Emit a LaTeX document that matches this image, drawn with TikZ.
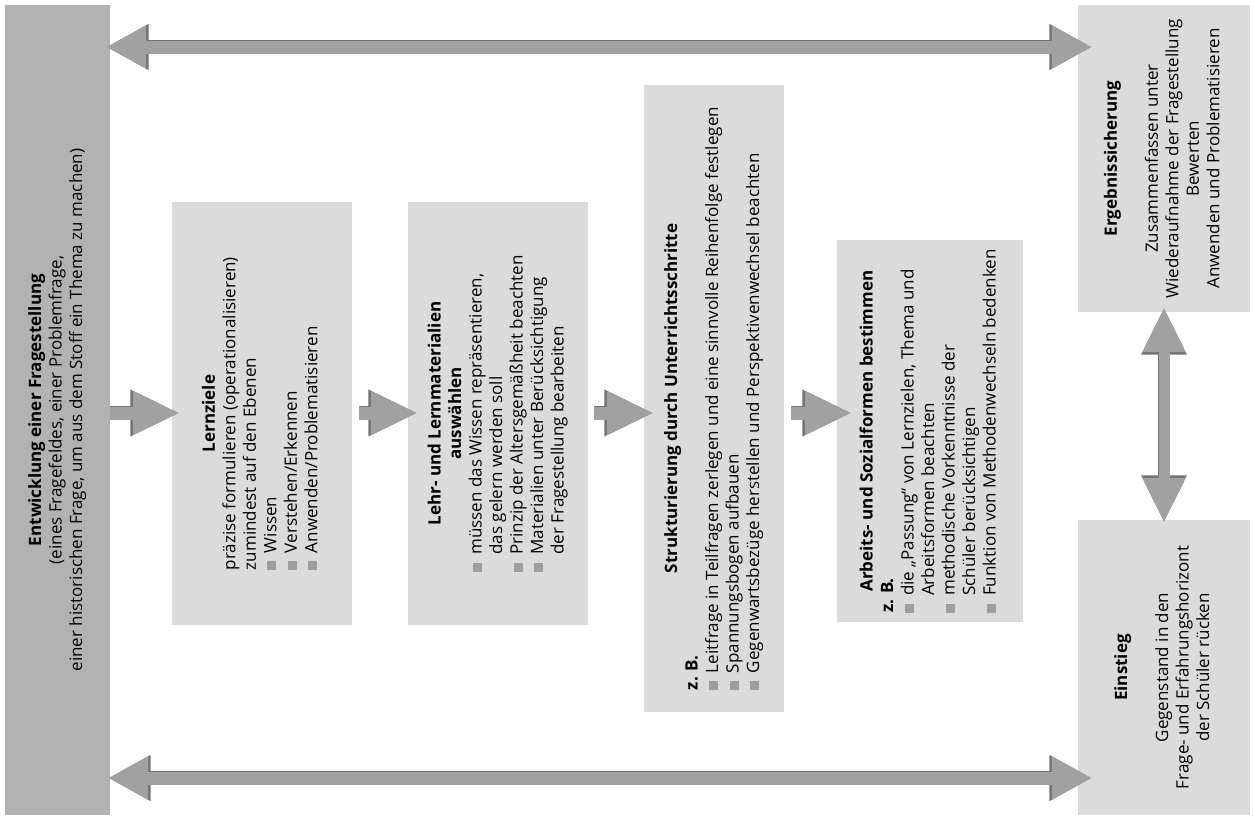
\documentclass[tikz,border=0pt]{standalone}
\usepackage{fontspec}
\setmainfont{Open Sans}
\usetikzlibrary{arrows.meta}
\definecolor{bargray}{gray}{0.70}
\definecolor{boxgray}{gray}{0.86}
\definecolor{arrgray}{gray}{0.63}
\definecolor{rimgray}{gray}{0.45}
\definecolor{bulgray}{gray}{0.62}
\newcommand{\bul}{\textcolor{bulgray}{\rule{9pt}{9pt}}}
\tikzset{
  panel/.style={fill=boxgray, inner sep=0pt, align=center, font=\fontsize{17}{20.5}\selectfont},
  barpanel/.style={panel, fill=bargray},
  stepArrow/.style={preaction={draw=rimgray, line width=14.6pt, -{Triangle[length=49.5pt,width=43pt]}},
    draw=arrgray, line width=13pt, -{Triangle[length=47pt,width=40pt]}},
  longArrow/.style={preaction={draw=rimgray, line width=14.6pt, {Triangle[length=42.5pt,width=43pt]}-{Triangle[length=42.5pt,width=43pt]}},
    draw=arrgray, line width=13pt, {Triangle[length=40pt,width=40pt]}-{Triangle[length=40pt,width=40pt]}},
  vertArrow/.style={preaction={draw=rimgray, line width=12.6pt, {Triangle[length=47.5pt,width=42pt]}-{Triangle[length=47.5pt,width=42pt]}},
    draw=arrgray, line width=11pt, {Triangle[length=45pt,width=39pt]}-{Triangle[length=45pt,width=39pt]}}
}
\begin{document}
\begin{tikzpicture}[x=1pt,y=-1pt]
\useasboundingbox (0,0) rectangle (1254,823);
\fill[white] (0,0) rectangle (1254,823);

\node[barpanel, minimum width=105pt, minimum height=810pt] (bar) at (57.5,410)
  {\rotatebox{90}{\begin{tabular}{@{}c@{}}\textbf{Entwicklung einer Fragestellung}\\(eines Fragefeldes, einer Problemfrage,\\einer historischen Frage, um aus dem Stoff ein Thema zu machen)\end{tabular}}};

\node[panel, minimum width=180pt, minimum height=423pt] (lern) at (262,413.5)
  {\rotatebox{90}{\begin{tabular}{@{}l@{\hspace{8pt}}l@{}}
  \multicolumn{2}{@{}c@{}}{\textbf{Lernziele}}\\
  \multicolumn{2}{@{}l@{}}{präzise formulieren (operationalisieren)}\\
  \multicolumn{2}{@{}l@{}}{zumindest auf den Ebenen}\\
  \bul & Wissen\\
  \bul & Verstehen/Erkennen\\
  \bul & Anwenden/Problematisieren
  \end{tabular}}};

\node[panel, minimum width=180pt, minimum height=423pt] (lehr) at (498,413.5)
  {\rotatebox{90}{\begin{tabular}{@{}l@{\hspace{8pt}}l@{}}
  \multicolumn{2}{@{}c@{}}{\textbf{Lehr- und Lernmaterialien}}\\
  \multicolumn{2}{@{}c@{}}{\textbf{auswählen}}\\
  \bul & müssen das Wissen repräsentieren,\\
       & das gelern werden soll\\
  \bul & Prinzip der Altersgemäßheit beachten\\
  \bul & Materialien unter Berücksichtigung\\
       & der Fragestellung bearbeiten
  \end{tabular}}};

\node[panel, minimum width=140pt, minimum height=627pt] (struk) at (714,398.5)
  {\rotatebox{90}{\begin{tabular}{@{}l@{\hspace{8pt}}l@{}}
  \multicolumn{2}{@{}c@{}}{\textbf{Strukturierung durch Unterrichtsschritte}}\\
  \multicolumn{2}{@{}l@{}}{\textbf{z. B.}}\\
  \bul & Leitfrage in Teilfragen zerlegen und eine sinnvolle Reihenfolge festlegen\\
  \bul & Spannungsbogen aufbauen\\
  \bul & Gegenwartsbezüge herstellen und Perspektivenwechsel beachten
  \end{tabular}}};

\node[panel, minimum width=186pt, minimum height=382pt] (arb) at (930,431)
  {\rotatebox{90}{\begin{tabular}{@{}l@{\hspace{8pt}}l@{}}
  \multicolumn{2}{@{}c@{}}{\textbf{Arbeits- und Sozialformen bestimmen}}\\
  \multicolumn{2}{@{}l@{}}{\textbf{z. B.}}\\
  \bul & die „Passung“ von Lernzielen, Thema und\\
       & Arbeitsformen beachten\\
  \bul & methodische Vorkenntnisse der\\
       & Schüler berücksichtigen\\
  \bul & Funktion von Methodenwechseln bedenken
  \end{tabular}}};

\node[panel, minimum width=172pt, minimum height=307pt] (erg) at (1164,158.5)
  {\rotatebox{90}{\begin{tabular}{@{}c@{}}
  \textbf{Ergebnissicherung}\\[20.5pt]
  Zusammenfassen unter\\
  Wiederaufnahme der Fragestellung\\
  Bewerten\\
  Anwenden und Problematisieren
  \end{tabular}}};

\node[panel, minimum width=172pt, minimum height=295pt] (ein) at (1164,667.5)
  {\rotatebox{90}{\begin{tabular}{@{}c@{}}
  \textbf{Einstieg}\\[20.5pt]
  Gegenstand in den\\
  Frage- und Erfahrungshorizont\\
  der Schüler rücken
  \end{tabular}}};

\coordinate (ty) at (0,47);
\coordinate (by) at (0,778);
\coordinate (my) at (0,413);

\draw[longArrow, shorten <=-4pt, shorten >=-14pt] (bar.east |- ty) -- (erg.west |- ty);
\draw[longArrow, shorten <=-2pt, shorten >=-14pt] (bar.east |- by) -- (ein.west |- by);
\draw[stepArrow, shorten >=-8pt] (bar.east |- my) -- (lern.west |- my);
\draw[stepArrow, shorten <=7pt, shorten >=-10pt] (lern.east |- my) -- (lehr.west |- my);
\draw[stepArrow, shorten <=6pt, shorten >=-10pt] (lehr.east |- my) -- (struk.west |- my);
\draw[stepArrow, shorten <=7pt, shorten >=-15pt] (struk.east |- my) -- (arb.west |- my);
\draw[vertArrow, shorten <=-5pt, shorten >=-3pt] (erg.south) -- (ein.north);
\end{tikzpicture}
\end{document}
